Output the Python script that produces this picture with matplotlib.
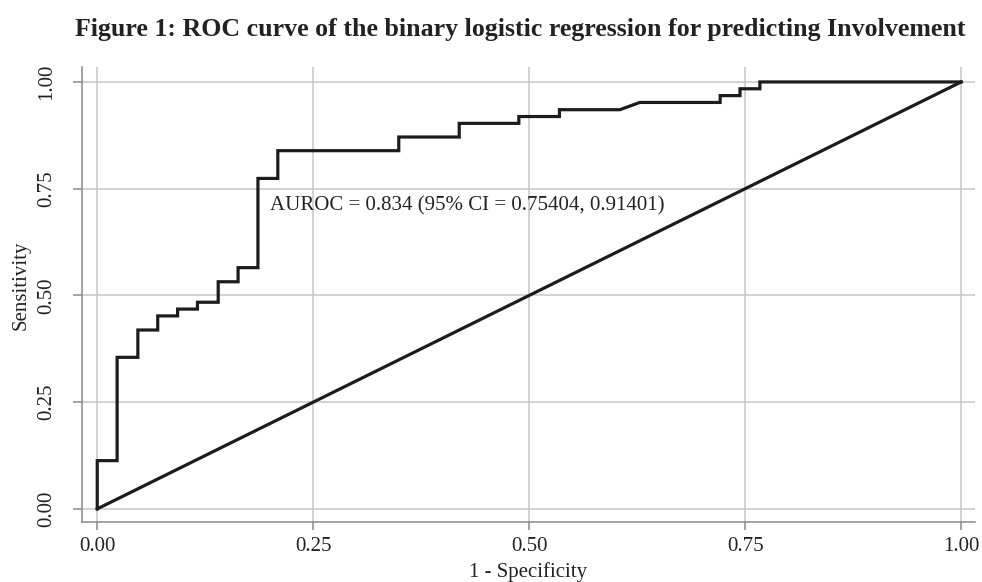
import matplotlib
matplotlib.use("Agg")
import matplotlib.pyplot as plt

# ROC curve corner points (1 - specificity, sensitivity)
fpr = [0.000, 0.000, 0.023, 0.023, 0.047, 0.047, 0.070, 0.070, 0.093, 0.093,
       0.116, 0.116, 0.140, 0.140, 0.163, 0.163, 0.186, 0.186, 0.209, 0.209,
       0.349, 0.349, 0.419, 0.419, 0.488, 0.488, 0.535, 0.535, 0.605, 0.628,
       0.721, 0.721, 0.744, 0.744, 0.767, 0.767, 1.000]
tpr = [0.000, 0.113, 0.113, 0.355, 0.355, 0.419, 0.419, 0.452, 0.452, 0.468,
       0.468, 0.484, 0.484, 0.532, 0.532, 0.565, 0.565, 0.774, 0.774, 0.839,
       0.839, 0.871, 0.871, 0.903, 0.903, 0.919, 0.919, 0.935, 0.935, 0.952,
       0.952, 0.968, 0.968, 0.984, 0.984, 1.000, 1.000]
ref_x = [0.0, 1.0]
ref_y = [0.0, 1.0]
ticks = [0.0, 0.25, 0.50, 0.75, 1.0]
tick_labels = ["0.00", "0.25", "0.50", "0.75", "1.00"]
title = "Figure 1: ROC curve of the binary logistic regression for predicting Involvement"
annotation = "AUROC = 0.834 (95% CI = 0.75404, 0.91401)"

plt.rcParams['font.family'] = ['Liberation Serif', 'DejaVu Serif']

fig = plt.figure(figsize=(9.82, 5.82), dpi=100)
ax = fig.add_axes([81.7/982, 1-521.7/582, (975-81.7)/982, (521.7-67)/582])

line_col = "#1c1c1c"
ax.plot(fpr, tpr, color=line_col, lw=2.3, solid_joinstyle='miter', zorder=3)
ax.plot(ref_x, ref_y, color=line_col, lw=2.3, zorder=3)

ax.set_xlim(-0.018, 1.016)
ax.set_ylim(-0.030, 1.035)
ax.set_xticks(ticks)
ax.set_xticklabels(tick_labels)
ax.set_yticks(ticks)
ax.set_yticklabels(tick_labels, rotation=90, va='center')

ax.grid(True, color="#c8c8c8", lw=1.1)
ax.set_axisbelow(True)
for s in ['top', 'right']:
    ax.spines[s].set_visible(False)
for s in ['left', 'bottom']:
    ax.spines[s].set_color("#8a8a8a")
    ax.spines[s].set_linewidth(1.1)
ax.tick_params(axis='x', length=6, width=1.1, color="#8a8a8a", pad=5, labelsize=15, labelcolor="#222222")
ax.tick_params(axis='y', length=6.5, width=1.1, color="#8a8a8a", pad=12, labelsize=15, labelcolor="#222222")

ax.set_xlabel("1 - Specificity", fontsize=15, color="#222222", va='top')
ax.xaxis.set_label_coords(0.5, -0.0886)
ax.set_ylabel("Sensitivity", fontsize=15, color="#222222")
ax.yaxis.set_label_coords(-0.0568, 0.52)

ax.text(0.200, 0.699, annotation, fontsize=15, color="#222222", ha='left', va='baseline')

fig.text(520/982, 1-36/582, title, fontsize=18.6, fontweight='bold', color="#222222",
         ha='center', va='baseline')

fig.savefig("out.png", dpi=100)
